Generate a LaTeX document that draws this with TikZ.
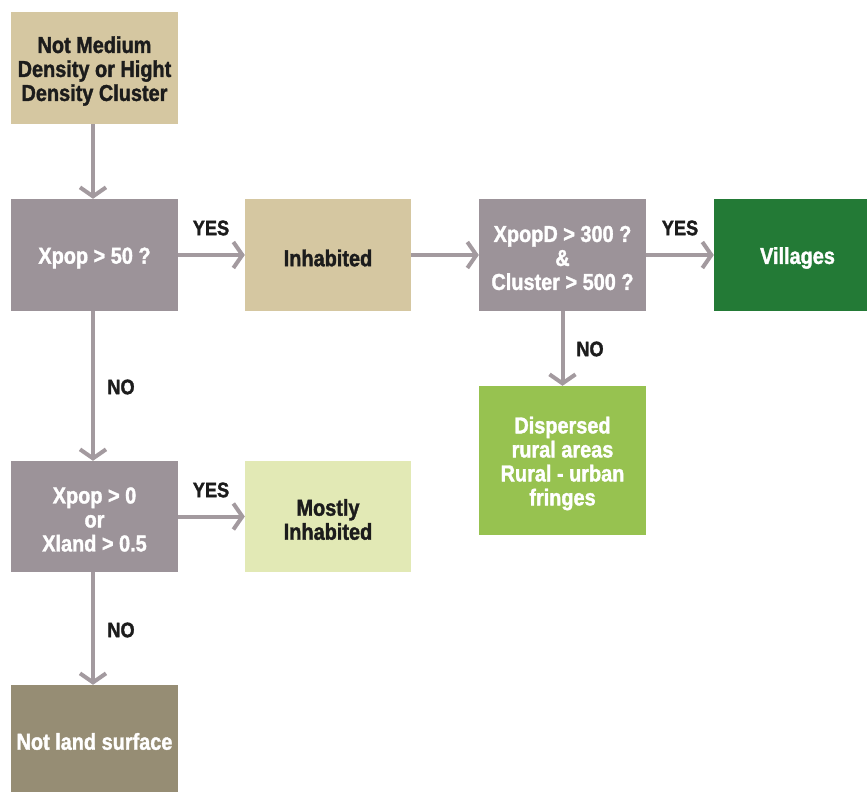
\documentclass[tikz,border=0pt]{standalone}
\usepackage{fontspec}
\setmainfont{Liberation Sans}[FakeStretch=0.865, BoldFeatures={FakeBold=1.5}]
\usetikzlibrary{arrows.meta}
\definecolor{tan}{HTML}{D5C7A1}
\definecolor{boxgray}{HTML}{9C9399}
\definecolor{darkgreen}{HTML}{237A36}
\definecolor{lightgreen}{HTML}{97C250}
\definecolor{palegreen}{HTML}{E2E9B5}
\definecolor{khaki}{HTML}{968D74}
\definecolor{arrowgray}{HTML}{A39A9F}
\definecolor{darktext}{HTML}{1C1C1C}
\tikzset{
  box/.style={rectangle, inner sep=0pt},
  txt/.style={inner sep=0pt, align=center, font=\fontsize{23}{24}\selectfont\bfseries},
  conn/.style={draw=arrowgray, line width=4pt, -{Straight Barb[length=9pt,width=26pt,line width=4pt]}},
  lbl/.style={font=\fontsize{21}{24}\selectfont\bfseries, text=darktext}
}
\begin{document}
\begin{tikzpicture}[x=1pt,y=-1pt]
\useasboundingbox (0,0) rectangle (867,792);
\node[box, fill=tan, minimum width=167pt, minimum height=112pt] (top) at (94.5,68) {};
\node[box, fill=boxgray, minimum width=167pt, minimum height=112pt] (q1) at (94.5,255) {};
\node[box, fill=tan, minimum width=166pt, minimum height=112pt] (inh) at (328,255) {};
\node[box, fill=boxgray, minimum width=167pt, minimum height=112pt] (q2) at (562.5,255) {};
\node[box, fill=darkgreen, minimum width=153pt, minimum height=112pt] (vil) at (790.5,255) {};
\node[box, fill=lightgreen, minimum width=167pt, minimum height=149pt] (disp) at (562.5,460.5) {};
\node[box, fill=boxgray, minimum width=167pt, minimum height=111pt] (q3) at (94.5,516.5) {};
\node[box, fill=palegreen, minimum width=166pt, minimum height=111pt] (most) at (328,516.5) {};
\node[box, fill=khaki, minimum width=167pt, minimum height=107pt] (nl) at (94.5,738.5) {};

\node[txt, text=darktext] (topt) at ([yshift=-3pt]top.center) {Not Medium\\Density or Hight\\Density Cluster};
\node[txt, text=white] (q1t) at ([yshift=-3pt]q1.center) {Xpop > 50 ?};
\node[txt, text=darktext] (inht) at ([yshift=-3pt]inh.center) {Inhabited};
\node[txt, text=white] (q2t) at ([yshift=-3pt]q2.center) {XpopD > 300 ?\\\&\\Cluster > 500 ?};
\node[txt, text=white] (vilt) at ([xshift=7pt,yshift=-3pt]vil.center) {Villages};
\node[txt, text=white] (dispt) at ([yshift=-3pt]disp.center) {Dispersed\\rural areas\\Rural - urban\\fringes};
\node[txt, text=white] (q3t) at ([yshift=-3pt]q3.center) {Xpop > 0\\or\\Xland > 0.5};
\node[txt, text=darktext] (mostt) at ([yshift=-3pt]most.center) {Mostly\\Inhabited};
\node[txt, text=white] (nlt) at ([yshift=-3pt]nl.center) {Not land surface};

\draw[conn] (top.south -| 93,0) -- (q1.north -| 93,0);
\draw[conn] (q1.east) -- (inh.west);
\draw[conn] (inh.east) -- (q2.west);
\draw[conn] (q2.east) -- (vil.west);
\draw[conn] (q2.south) -- (disp.north);
\draw[conn] (q1.south -| 93,0) -- (q3.north -| 93,0);
\draw[conn] (q3.east) -- (most.west);
\draw[conn] (q3.south -| 93,0) -- (nl.north -| 93,0);

\node[lbl] (y1) at (211,228) {YES};
\node[lbl] (y2) at (680,228) {YES};
\node[lbl] (y3) at (211,490) {YES};
\node[lbl] (n1) at (121,387) {NO};
\node[lbl] (n2) at (590,349) {NO};
\node[lbl] (n3) at (121,630) {NO};
\end{tikzpicture}
\end{document}
